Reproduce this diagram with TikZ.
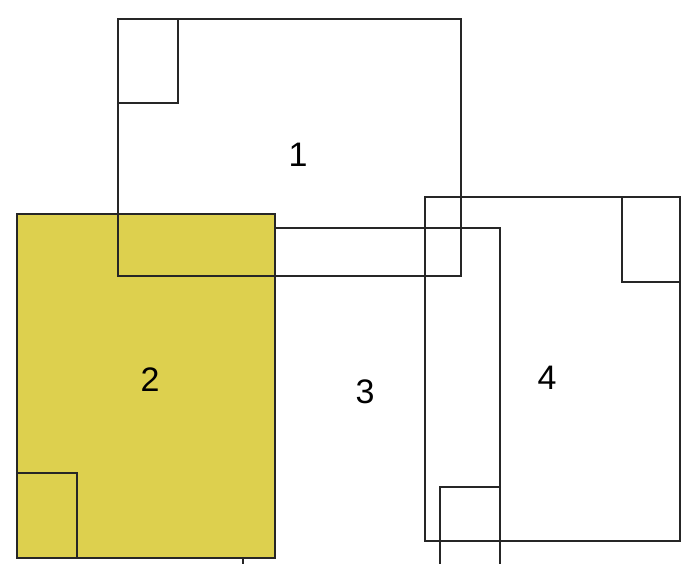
\documentclass[tikz,border=0pt]{standalone}
\usepackage{fontspec}
\setmainfont{Liberation Sans}
\definecolor{boxyellow}{RGB}{221,208,78}
\begin{document}
\begin{tikzpicture}[x=1pt,y=-1pt,
  frame/.style={draw=black!85,line width=1.8pt},
  lbl/.style={font=\fontsize{34}{40}\selectfont,inner sep=0pt}]
\useasboundingbox (0,0) rectangle (682,564);
\clip (0,0) rectangle (682,564);
% box 3 (under the yellow box)
\draw[frame] (243,580) -- (243,228) -- (500,228) -- (500,580);
\draw[frame] (440,580) -- (440,487) -- (500,487);
% box 2 (yellow)
\fill[boxyellow] (17,214) rectangle (275,558);
\draw[frame] (17,214) rectangle (275,558);
\draw[frame] (17,473) rectangle (77,558);
% box 1
\draw[frame] (118,19) rectangle (461,276);
\draw[frame] (118,19) rectangle (178,103);
% box 4
\draw[frame] (425,197) rectangle (680,541);
\draw[frame] (622,197) rectangle (680,282);
% labels
\node[lbl] (l1) at (298,155) {1};
\node[lbl] (l2) at (150,380) {2};
\node[lbl] (l3) at (365,392) {3};
\node[lbl] (l4) at (547,378) {4};
\end{tikzpicture}
\end{document}
